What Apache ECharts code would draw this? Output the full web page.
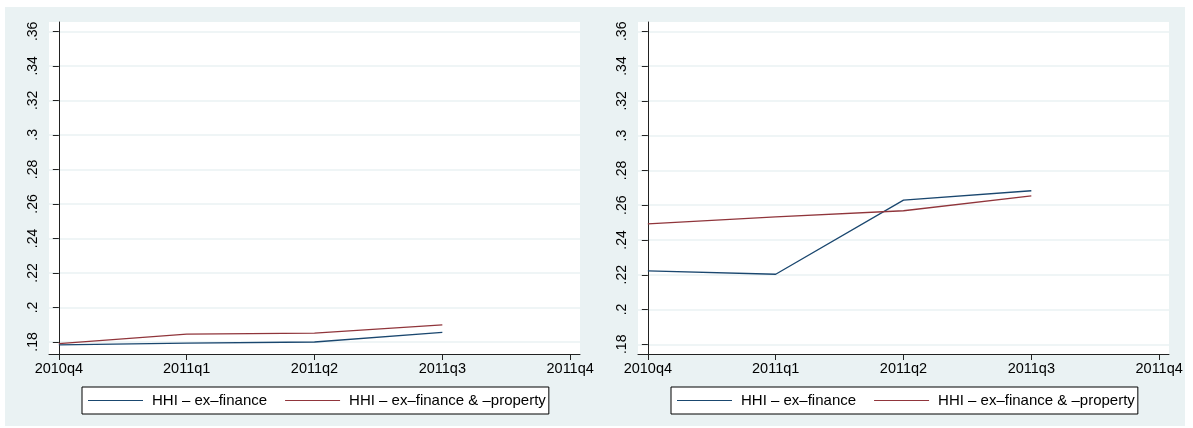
<!DOCTYPE html>
<html>
<head>
<meta charset="utf-8">
<script src="https://cdn.jsdelivr.net/npm/echarts@6/dist/echarts.min.js"></script>
<style>
  html, body { margin: 0; padding: 0; background: #ffffff; }
  #chart { width: 1193px; height: 428px; }
</style>
</head>
<body>
<div id="chart"></div>
<script>
// Quarter labels along the horizontal axis
const quarters = ['2010q4', '2011q1', '2011q2', '2011q3', '2011q4'];
// Tick values on the vertical axis
const yTicks = [0.18, 0.20, 0.22, 0.24, 0.26, 0.28, 0.30, 0.32, 0.34, 0.36];
const yTickLabels = ['.18', '.2', '.22', '.24', '.26', '.28', '.3', '.32', '.34', '.36'];
const seriesNames = ['HHI \u2013 ex\u2013finance', 'HHI \u2013 ex\u2013finance & \u2013property'];

// Left panel values (2010q4 .. 2011q3)
const leftExFinance = [0.1783, 0.1794, 0.1800, 0.1856];
const leftExFinanceProperty = [0.1791, 0.1846, 0.1852, 0.1899];
// Right panel values (2010q4 .. 2011q3)
const rightExFinance = [0.2222, 0.2203, 0.2629, 0.2683];
const rightExFinanceProperty = [0.2493, 0.2533, 0.2568, 0.2654];

const FONT = '"Liberation Sans", Arial, Helvetica, sans-serif';
const NAVY = '#1a476f';
const MAROON = '#90353b';
const BG = '#eaf2f3';

const quarterIdx = quarters.map((q, i) => i);
const pairs = vals => vals.map((v, i) => [quarterIdx[i], v]);

function xAxisFor(gridIndex) {
  return {
    type: 'value', gridIndex: gridIndex,
    min: -0.077, max: 4.077,
    axisLine: { show: true, lineStyle: { color: '#222', width: 1 } },
    axisTick: { show: true, length: 6, lineStyle: { color: '#222' }, customValues: quarterIdx },
    axisLabel: {
      customValues: quarterIdx, color: '#000', fontFamily: FONT, fontSize: 14.5, margin: 7,
      formatter: v => quarters[Math.round(v)]
    },
    splitLine: { show: false }
  };
}

function yAxisFor(gridIndex, min, max) {
  return {
    type: 'value', gridIndex: gridIndex,
    min: min, max: max,
    axisLine: { show: true, lineStyle: { color: '#222', width: 1 } },
    axisTick: { show: true, length: 6, lineStyle: { color: '#222' }, customValues: yTicks },
    axisLabel: {
      customValues: yTicks, rotate: 90, color: '#000', fontFamily: FONT, fontSize: 14, margin: 9,
      formatter: v => {
        const k = yTicks.findIndex(t => Math.abs(t - v) < 1e-9);
        return k >= 0 ? yTickLabels[k] : '';
      }
    },
    splitLine: { show: true, lineStyle: { color: BG, width: 1.5 } }
  };
}

function lineSeries(name, data, color, axisIndex) {
  return {
    type: 'line', name: name, data: data,
    xAxisIndex: axisIndex, yAxisIndex: axisIndex,
    symbol: 'none', smooth: false,
    lineStyle: { color: color, width: 1.3 },
    itemStyle: { color: color },
    emphasis: { disabled: true }
  };
}

function legendFor(left) {
  return {
    data: seriesNames, left: left, top: 387, orient: 'horizontal',
    icon: 'rect', itemWidth: 55, itemHeight: 1.2, itemGap: 18,
    padding: [6, 3, 6, 6],
    borderColor: '#000', borderWidth: 1, backgroundColor: '#fff',
    textStyle: { color: '#000', fontFamily: FONT, fontSize: 15, padding: [0, 0, 0, 4] },
    selectedMode: false
  };
}

const chart = echarts.init(document.getElementById('chart'), null, { renderer: 'canvas' });
chart.setOption({
  animation: false,
  backgroundColor: '#ffffff',
  graphic: [{
    type: 'rect', z: -10, silent: true,
    shape: { x: 5, y: 7, width: 1180, height: 419 },
    style: { fill: BG }
  }],
  grid: [
    { left: 49, top: 22, width: 531, height: 332, show: true, backgroundColor: '#fff', borderWidth: 0 },
    { left: 638, top: 22, width: 531, height: 332, show: true, backgroundColor: '#fff', borderWidth: 0 }
  ],
  xAxis: [xAxisFor(0), xAxisFor(1)],
  yAxis: [yAxisFor(0, 0.17306, 0.3654), yAxisFor(1, 0.17443, 0.36534)],
  legend: [legendFor(82), legendFor(671)],
  series: [
    lineSeries(seriesNames[0], pairs(leftExFinance), NAVY, 0),
    lineSeries(seriesNames[1], pairs(leftExFinanceProperty), MAROON, 0),
    lineSeries(seriesNames[0], pairs(rightExFinance), NAVY, 1),
    lineSeries(seriesNames[1], pairs(rightExFinanceProperty), MAROON, 1)
  ]
});
</script>
</body>
</html>
